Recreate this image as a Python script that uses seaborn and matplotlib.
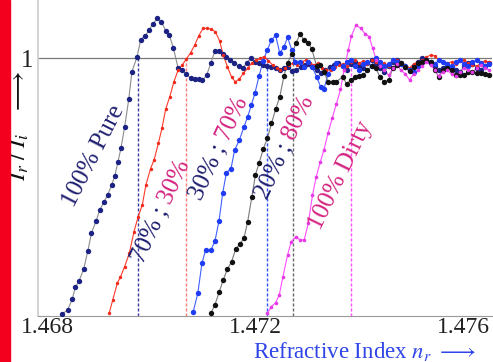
import pandas as pd
import seaborn as sns
import matplotlib.pyplot as plt
from matplotlib.patches import Rectangle
from matplotlib.ticker import MultipleLocator

# shared sampling positions of the flat tail
nr_tail = [1.47368, 1.47376, 1.47384, 1.47392, 1.47399, 1.47408, 1.47416, 1.47424, 1.47432, 1.47440,
           1.47448, 1.47457, 1.47465, 1.47473, 1.47480, 1.47489, 1.47497, 1.47505, 1.47513, 1.47521,
           1.47529, 1.47538, 1.47546, 1.47553, 1.47561, 1.47570, 1.47578, 1.47586, 1.47594, 1.47602,
           1.47610, 1.47618, 1.47627, 1.47634, 1.47642, 1.47650]

# 100% Pure
pure_nr = [1.46828, 1.46838, 1.46847, 1.46853, 1.46860, 1.46869, 1.46877, 1.46884, 1.46893, 1.46900,
           1.46908, 1.46915, 1.46923, 1.46929, 1.46935, 1.46941, 1.46948, 1.46956, 1.46962, 1.46972,
           1.46979, 1.46988, 1.46995, 1.47002, 1.47011, 1.47019, 1.47027, 1.47034, 1.47042, 1.47051,
           1.47059, 1.47067, 1.47075, 1.47083, 1.47091, 1.47098, 1.47106, 1.47114, 1.47122, 1.47130,
           1.47137, 1.47144, 1.47152, 1.47159, 1.47168, 1.47176, 1.47183, 1.47191, 1.47199, 1.47207,
           1.47215, 1.47223, 1.47231, 1.47239, 1.47247, 1.47255, 1.47263, 1.47271, 1.47279, 1.47288,
           1.47295, 1.47304, 1.47311, 1.47319, 1.47327, 1.47335, 1.47343, 1.47351, 1.47359] + nr_tail
pure_ratio = [0.405, 0.414, 0.439, 0.467, 0.481, 0.509, 0.551, 0.593, 0.621, 0.647,
              0.665, 0.681, 0.705, 0.726, 0.758, 0.791, 0.840, 0.905, 0.968, 1.003,
              1.043, 1.052, 1.065, 1.079, 1.092, 1.084, 1.064, 1.054, 1.023, 0.977,
              0.972, 0.963, 0.953, 0.951, 0.951, 0.948, 0.960, 0.988, 1.017, 1.017,
              1.009, 1.002, 0.995, 0.988, 0.981, 0.976, 0.989, 0.999, 0.991, 0.989,
              0.984, 0.981, 0.980, 0.976, 0.972, 0.976, 0.980, 0.970, 0.972, 0.980,
              0.984, 0.986, 0.980, 0.972, 0.966, 0.972, 0.980, 0.984, 0.988,
              0.981, 0.972, 0.986, 0.991, 0.981, 0.977, 0.988, 0.995, 0.986, 0.977,
              0.967, 0.981, 0.991, 0.995, 0.988, 0.979, 0.972, 0.981, 0.991, 1.000,
              0.995, 0.988, 0.981, 0.972, 0.977, 0.984, 0.979, 0.972, 0.967, 0.981,
              0.988, 0.986, 0.977, 0.972, 0.981, 0.988]

# 70% ; 30%
mix70_nr = [1.46918, 1.46925, 1.46934, 1.46940, 1.46948, 1.46957, 1.46966, 1.46974, 1.46982, 1.46989,
            1.46998, 1.47005, 1.47013, 1.47020, 1.47027, 1.47035, 1.47043, 1.47051, 1.47059, 1.47067,
            1.47075, 1.47083, 1.47091, 1.47099, 1.47107, 1.47115, 1.47123, 1.47131, 1.47138, 1.47146,
            1.47154, 1.47161, 1.47169, 1.47177, 1.47185, 1.47193, 1.47201, 1.47209, 1.47216, 1.47225,
            1.47233, 1.47241, 1.47248, 1.47257, 1.47265, 1.47273, 1.47280, 1.47289, 1.47297, 1.47305,
            1.47313, 1.47321, 1.47329, 1.47337, 1.47345, 1.47353, 1.47361] + nr_tail
mix70_ratio = [0.406, 0.437, 0.477, 0.491, 0.515, 0.546, 0.596, 0.631, 0.658, 0.705,
               0.743, 0.764, 0.802, 0.837, 0.881, 0.910, 0.945, 0.972, 0.984, 0.998,
               1.012, 1.030, 1.052, 1.069, 1.069, 1.067, 1.061, 1.040, 1.007, 0.980,
               0.956, 0.945, 0.951, 0.965, 0.976, 0.988, 0.995, 0.999, 1.003, 0.994,
               0.984, 0.976, 0.972, 0.976, 0.984, 0.988, 0.984, 0.991, 0.995, 0.988,
               0.984, 0.988, 0.976, 0.972, 0.972, 0.980, 0.984,
               0.986, 0.981, 0.991, 0.995, 0.988, 0.993, 0.986, 0.995, 0.991, 0.984,
               0.988, 0.981, 0.993, 0.995, 0.988, 0.984, 0.977, 0.986, 0.991, 0.995,
               1.002, 1.007, 1.005, 0.995, 0.991, 0.988, 0.991, 0.986, 0.993, 0.995,
               0.988, 0.984, 0.981, 0.988, 0.993, 0.991]

# 30% ; 70%
mix30_nr = [1.47080, 1.47089, 1.47097, 1.47104, 1.47114, 1.47122, 1.47130, 1.47137, 1.47144, 1.47153,
            1.47160, 1.47169, 1.47178, 1.47185, 1.47192, 1.47199, 1.47207, 1.47215, 1.47223, 1.47231,
            1.47239, 1.47247, 1.47255, 1.47262, 1.47270, 1.47277, 1.47286, 1.47294, 1.47302, 1.47309,
            1.47318, 1.47326, 1.47332, 1.47340, 1.47349, 1.47356] + nr_tail
mix30_ratio = [0.409, 0.453, 0.523, 0.553, 0.553, 0.574, 0.622, 0.686, 0.733, 0.743,
               0.786, 0.809, 0.840, 0.863, 0.890, 0.918, 0.958, 0.994, 1.019, 1.042,
               1.053, 1.011, 1.026, 1.048, 1.019, 0.991, 0.991, 0.980, 0.991, 0.980,
               0.957, 0.932, 0.927, 0.963, 0.976, 0.988,
               0.981, 0.991, 0.995, 0.981, 0.972, 0.986, 0.991, 0.981, 1.000, 0.991,
               0.981, 0.986, 0.995, 0.991, 0.986, 0.981, 0.972, 0.967, 0.981, 0.991,
               0.995, 0.991, 0.986, 0.995, 0.991, 0.986, 0.981, 0.991, 0.995, 0.986,
               0.981, 0.991, 0.995, 0.988, 0.981, 0.986]

# 20% ; 80%
mix20_nr = [1.47114, 1.47122, 1.47130, 1.47138, 1.47146, 1.47154, 1.47162, 1.47170, 1.47178, 1.47185,
            1.47193, 1.47200, 1.47207, 1.47215, 1.47223, 1.47231, 1.47239, 1.47247, 1.47255, 1.47262,
            1.47270, 1.47278, 1.47286, 1.47293, 1.47302, 1.47309, 1.47318, 1.47324, 1.47332, 1.47340,
            1.47349, 1.47356] + nr_tail
mix20_ratio = [0.406, 0.426, 0.455, 0.484, 0.509, 0.526, 0.556, 0.567, 0.581, 0.619,
               0.676, 0.728, 0.755, 0.788, 0.813, 0.848, 0.881, 0.910, 0.958, 0.988,
               1.009, 1.034, 1.056, 1.043, 1.036, 1.020, 0.981, 0.984, 0.968, 0.945,
               0.945, 0.945,
               0.956, 0.940, 0.949, 0.956, 0.958, 0.960, 0.972, 0.981, 0.977, 0.956,
               0.944, 0.949, 0.977, 0.984, 0.988, 0.979, 0.970, 0.979, 0.988, 0.991,
               0.995, 0.991, 0.972, 0.956, 0.972, 0.977, 0.972, 0.960, 0.960, 0.960,
               0.967, 0.967, 0.965, 0.965, 0.963, 0.960]

# 100% Dirty
dirty_nr = [1.47223, 1.47231, 1.47239, 1.47246, 1.47253, 1.47262, 1.47269, 1.47278, 1.47286, 1.47294,
            1.47302, 1.47310, 1.47317, 1.47325, 1.47332, 1.47340, 1.47348, 1.47356, 1.47364, 1.47371,
            1.47379, 1.47385, 1.47394, 1.47403, 1.47411, 1.47419, 1.47426, 1.47433, 1.47441,
            1.47448, 1.47457, 1.47465, 1.47473, 1.47480, 1.47489, 1.47497, 1.47505, 1.47513, 1.47521,
            1.47529, 1.47538, 1.47546, 1.47553, 1.47561, 1.47570, 1.47578, 1.47586, 1.47594, 1.47602,
            1.47610, 1.47618, 1.47627, 1.47634, 1.47642, 1.47650]
dirty_ratio = [0.406, 0.422, 0.431, 0.449, 0.491, 0.542, 0.573, 0.584, 0.577, 0.577,
               0.616, 0.681, 0.723, 0.758, 0.786, 0.825, 0.860, 0.893, 0.927, 0.972,
               1.019, 1.051, 1.077, 1.069, 1.057, 1.050, 1.023, 0.995, 0.981,
               0.972, 0.960, 0.977, 0.986, 0.972, 0.963, 0.949, 0.963, 0.972, 0.981,
               0.991, 0.984, 0.972, 0.958, 0.967, 0.972, 0.963, 0.958, 0.967, 0.977,
               0.972, 0.967, 0.977, 0.984, 0.977, 0.972]

# where each curve first reaches I_r/I_i = 1 (dashed markers)
cross_nr = [1.46973, 1.47067, 1.47222, 1.47272, 1.47384]

x_ticks = [1.468, 1.470, 1.472, 1.474, 1.476]
x_tick_labels = ["1.468", "", "1.472", "", "1.476"]
y_ticks = [0.5, 0.6, 0.7, 0.8, 0.9, 1.0, 1.1]
y_tick_labels = ["", "", "", "", "", "1", ""]

series = [
    # name, nr, ratio, line colour, dot colour, dot size, dashed colour
    ("pure", pure_nr, pure_ratio, "#8c8c8c", "#1b2283", 15, "#3a3aa0"),
    ("70/30", mix70_nr, mix70_ratio, "#ff3a2a", "#f02a1c", 6, "#ff7a7a"),
    ("30/70", mix30_nr, mix30_ratio, "#4060ff", "#1f3cf5", 15, "#3050ff"),
    ("20/80", mix20_nr, mix20_ratio, "#7a7a7a", "#111111", 15, "#666666"),
    ("dirty", dirty_nr, dirty_ratio, "#ff4dff", "#e63ce6", 7, "#ff4dff"),
]

df = pd.concat(
    [pd.DataFrame({"nr": x, "ratio": y, "mix": name}) for name, x, y, *_ in series],
    ignore_index=True,
)

sns.set_theme(style="white")
plt.rcParams["font.family"] = ["Liberation Serif", "DejaVu Serif"]
plt.rcParams["mathtext.fontset"] = "stix"

fig = plt.figure(figsize=(4.93, 3.62), dpi=100)
ax = fig.add_axes([38 / 493, 46 / 362, 454 / 493, 316 / 362])

ax.axhline(1.0, color="#7a7a7a", lw=0.9, zorder=1)

for (name, _, _, line_c, dot_c, size, dash_c), xc in zip(series, cross_nr):
    sub = df[df["mix"] == name]
    ax.vlines(xc, 0.4, 1.0, colors=dash_c, linestyles=(0, (2.2, 1.4)), lw=1.0, zorder=1.5)
    sns.lineplot(data=sub, x="nr", y="ratio", sort=False, estimator=None,
                 color=line_c, lw=0.8, ax=ax, zorder=2)
    sns.scatterplot(data=sub, x="nr", y="ratio", color=dot_c, s=size,
                    linewidth=0, ax=ax, zorder=3)

ax.set_xlim(1.46781, 1.47656)
ax.set_ylim(0.4, 1.135)
ax.set_xlabel("")
ax.set_ylabel("")
ax.set_xticks(x_ticks)
ax.set_xticklabels(x_tick_labels)
ax.xaxis.set_minor_locator(MultipleLocator(0.0001))
ax.set_yticks(y_ticks)
ax.set_yticklabels(y_tick_labels)
ax.tick_params(axis="x", which="major", direction="inout", length=6, width=0.7,
               colors="#9a9a9a", labelcolor="#222222", labelsize=17, pad=-2)
ax.tick_params(axis="x", which="minor", direction="inout", length=4, width=0.5, colors="#aaaaaa")
ax.tick_params(axis="y", which="major", direction="inout", length=4, width=0.6,
               colors="#cccccc", labelcolor="#222222", labelsize=18, pad=1)
for side in ["top", "right"]:
    ax.spines[side].set_visible(False)
ax.spines["left"].set_color("#d0d0d0")
ax.spines["left"].set_linewidth(1.3)
ax.spines["bottom"].set_color("#9a9a9a")
ax.spines["bottom"].set_linewidth(0.8)


def pix(px, py):
    return px / 493, 1 - py / 362


navy = "#1f1f70"
pink = "#d42380"
lab = dict(fontsize=18, rotation_mode="anchor")

fig.text(*pix(94, 156), "100% Pure", rotation=63, ha="center", va="center", color=navy, **lab)
fig.text(*pix(341, 175), "100% Dirty", rotation=64, ha="center", va="center", color=pink, **lab)
for (px, py), left, right in [((168, 211), "70% ;", " 30%"),
                              ((226, 148), "30% ;", " 70%"),
                              ((292, 147), "20% ;", " 80%")]:
    fig.text(*pix(px, py), left, rotation=65, ha="right", va="baseline", color=navy, **lab)
    fig.text(*pix(px, py), right, rotation=65, ha="left", va="baseline", color=pink, **lab)

fig.text(*pix(253, 358), r"Refractive Index $n_r$ $\longrightarrow$", ha="left", va="baseline",
         color="#2f45e8", fontsize=16.5)
fig.text(*pix(18, 126), r"$I_r\;/\;I_i$   $\longrightarrow$", rotation=90, ha="center", va="center",
         color="#111111", fontsize=18)

fig.add_artist(Rectangle((0, 0), 10 / 493, 1, transform=fig.transFigure, color="#f2001e", zorder=5))

fig.savefig("out.png", dpi=100)
